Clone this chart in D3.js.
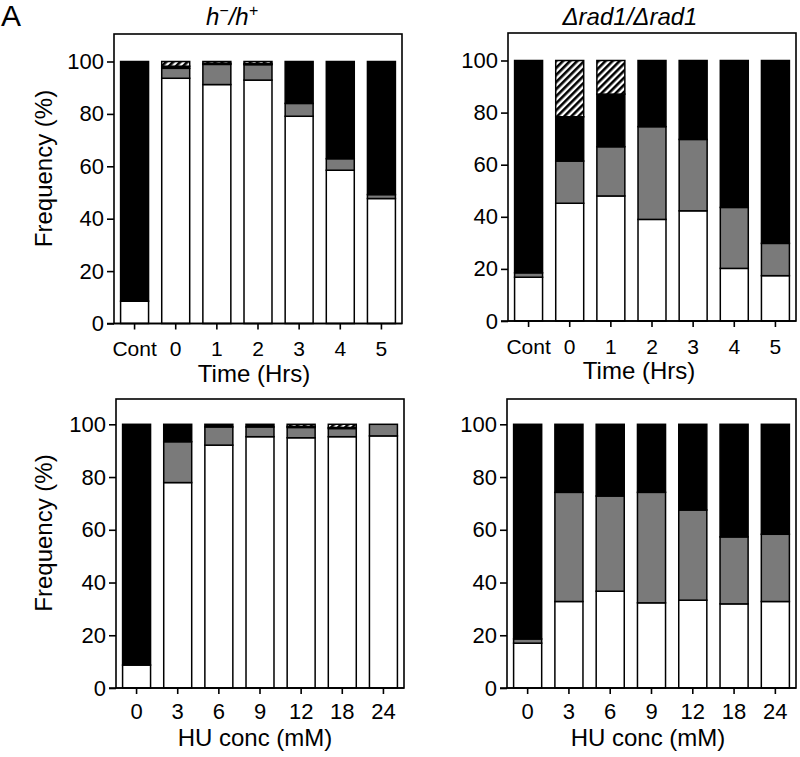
<!DOCTYPE html>
<html>
<head>
<meta charset="utf-8">
<script src="https://cdn.jsdelivr.net/npm/d3@7"></script>
<style>
  body { margin: 0; background: #fff; }
  svg { display: block; font-family: "Liberation Sans", Arial, sans-serif; }
</style>
</head>
<body>
<svg id="fig" width="800" height="757"></svg>
<script>
// categories
var timeCats = ["Cont", "0", "1", "2", "3", "4", "5"];
var huCats = ["0", "3", "6", "9", "12", "18", "24"];

// h-/h+ , time course (%)
var hTimeWhite = [8.5, 93.6, 91.2, 92.9, 79.1, 58.5, 47.7];
var hTimeGray = [0, 3.8, 7.7, 5.9, 4.9, 4.4, 1.5];
var hTimeBlack = [91.5, 0.8, 0.4, 0.4, 16.0, 37.1, 50.8];
var hTimeHatch = [0, 1.8, 0.7, 0.8, 0, 0, 0];

// rad1/rad1 , time course (%)
var rTimeWhite = [16.8, 45.2, 48.0, 39.0, 42.3, 20.2, 17.4];
var rTimeGray = [1.7, 16.2, 18.9, 35.6, 27.4, 23.4, 12.4];
var rTimeBlack = [81.5, 17.0, 20.2, 25.4, 30.3, 56.4, 70.2];
var rTimeHatch = [0, 21.6, 12.9, 0, 0, 0, 0];

// h-/h+ , HU concentration (%)
var hHuWhite = [8.7, 77.9, 92.1, 95.3, 94.9, 95.3, 95.6];
var hHuGray = [0, 15.5, 6.9, 3.7, 3.9, 3.1, 4.4];
var hHuBlack = [91.3, 6.6, 1.0, 1.0, 0.4, 0.4, 0];
var hHuHatch = [0, 0, 0, 0, 0.8, 1.2, 0];

// rad1/rad1 , HU concentration (%)
var rHuWhite = [17.0, 32.8, 36.7, 32.3, 33.3, 31.9, 32.8];
var rHuGray = [1.6, 41.4, 36.1, 41.9, 34.2, 25.4, 25.5];
var rHuBlack = [81.4, 25.8, 27.2, 25.8, 32.5, 42.7, 41.7];
var rHuHatch = [0, 0, 0, 0, 0, 0, 0];

var yTicks = [0, 20, 40, 60, 80, 100];
var keys = ["white", "gray", "black", "hatch"];

var svg = d3.select("#fig");

var defs = svg.append("defs");
var pat = defs.append("pattern")
    .attr("id", "hatch")
    .attr("patternUnits", "userSpaceOnUse")
    .attr("width", 5)
    .attr("height", 5)
    .attr("patternTransform", "rotate(45)");
pat.append("rect").attr("width", 5).attr("height", 5).attr("fill", "#fff");
pat.append("rect").attr("width", 2.6).attr("height", 5).attr("fill", "#000");

var fills = { white: "#fff", gray: "#7a7a7a", black: "#000", hatch: "url(#hatch)" };

function drawPanel(p) {
    var g = svg.append("g");

    var rows = p.cats.map(function (c, i) {
        return { cat: c, white: p.white[i], gray: p.gray[i], black: p.black[i], hatch: p.hatch[i] };
    });

    var x = d3.scaleBand()
        .domain(p.cats)
        .range([p.left, p.right])
        .paddingInner(0.32)
        .paddingOuter(0.16);

    var y = d3.scaleLinear()
        .domain([0, 100])
        .range([p.y0, p.y100]);

    var stack = d3.stack().keys(keys)(rows);

    stack.forEach(function (layer) {
        g.append("g")
            .selectAll("rect")
            .data(layer.filter(function (d) { return d[1] - d[0] > 0; }))
            .enter()
            .append("rect")
            .attr("x", function (d) { return x(d.data.cat); })
            .attr("width", x.bandwidth())
            .attr("y", function (d) { return y(d[1]); })
            .attr("height", function (d) { return y(d[0]) - y(d[1]); })
            .attr("fill", fills[layer.key])
            .attr("stroke", "#000")
            .attr("stroke-width", 1.5);
    });

    // frame
    g.append("rect")
        .attr("x", p.left)
        .attr("y", p.top)
        .attr("width", p.right - p.left)
        .attr("height", p.y0 - p.top)
        .attr("fill", "none")
        .attr("stroke", "#000")
        .attr("stroke-width", 1.6);

    // y axis
    var yAxis = g.append("g")
        .attr("transform", "translate(" + p.left + ",0)")
        .call(d3.axisLeft(y).tickValues(yTicks).tickSize(7).tickPadding(3));
    yAxis.select(".domain").remove();
    yAxis.selectAll("line").attr("stroke-width", 1.6);
    yAxis.selectAll("text")
        .attr("font-size", 22)
        .attr("font-family", "Liberation Sans, Arial, sans-serif")
        .attr("fill", "#000");

    // x axis
    var xAxis = g.append("g")
        .attr("transform", "translate(0," + p.y0 + ")")
        .call(d3.axisBottom(x).tickSize(6).tickPadding(p.labelPad));
    xAxis.select(".domain").remove();
    xAxis.selectAll("line").attr("stroke-width", 1.6);
    xAxis.selectAll("text")
        .attr("font-size", p.labelSize)
        .attr("font-family", "Liberation Sans, Arial, sans-serif")
        .attr("fill", "#000");

    // axis line running under the y ticks
    g.append("line")
        .attr("x1", p.left - 7).attr("x2", p.right)
        .attr("y1", p.y0).attr("y2", p.y0)
        .attr("stroke", "#000").attr("stroke-width", 1.6);

    g.append("text")
        .attr("x", p.titleX)
        .attr("y", p.y0 + 58)
        .attr("text-anchor", "middle")
        .attr("font-size", 24)
        .text(p.xTitle);

    if (p.yLabel) {
        g.append("text")
            .attr("transform", "translate(52," + (p.y0 - 155) + ") rotate(-90)")
            .attr("text-anchor", "middle")
            .attr("font-size", 24)
            .text("Frequency (%)");
    }
}

drawPanel({
    cats: timeCats, white: hTimeWhite, gray: hTimeGray, black: hTimeBlack, hatch: hTimeHatch,
    left: 114, right: 402, top: 34, y100: 61.5, y0: 323.5,
    labelSize: 21, labelPad: 12, xTitle: "Time (Hrs)", titleX: 254, yLabel: true
});
drawPanel({
    cats: timeCats, white: rTimeWhite, gray: rTimeGray, black: rTimeBlack, hatch: rTimeHatch,
    left: 508, right: 796, top: 33, y100: 60.5, y0: 321,
    labelSize: 21, labelPad: 12, xTitle: "Time (Hrs)", titleX: 639, yLabel: false
});
drawPanel({
    cats: huCats, white: hHuWhite, gray: hHuGray, black: hHuBlack, hatch: hHuHatch,
    left: 116, right: 404, top: 399, y100: 424.3, y0: 688,
    labelSize: 22, labelPad: 9, xTitle: "HU conc (mM)", titleX: 255, yLabel: true
});
drawPanel({
    cats: huCats, white: rHuWhite, gray: rHuGray, black: rHuBlack, hatch: rHuHatch,
    left: 507, right: 796, top: 399, y100: 424.3, y0: 688,
    labelSize: 22, labelPad: 9, xTitle: "HU conc (mM)", titleX: 648, yLabel: false
});

// panel letter
svg.append("text")
    .attr("x", 1)
    .attr("y", 26)
    .attr("font-size", 30)
    .text("A");

// column titles
var t1 = svg.append("text")
    .attr("x", 232)
    .attr("y", 25)
    .attr("text-anchor", "middle")
    .attr("font-size", 24)
    .attr("font-style", "italic");
t1.append("tspan").text("h");
t1.append("tspan").attr("dy", -9).attr("font-size", 16).text("\u2212");
t1.append("tspan").attr("dy", 9).text("/h");
t1.append("tspan").attr("dy", -9).attr("font-size", 16).text("+");

svg.append("text")
    .attr("x", 630)
    .attr("y", 25)
    .attr("text-anchor", "middle")
    .attr("font-size", 24)
    .attr("font-style", "italic")
    .text("\u0394rad1/\u0394rad1");
</script>
</body>
</html>
